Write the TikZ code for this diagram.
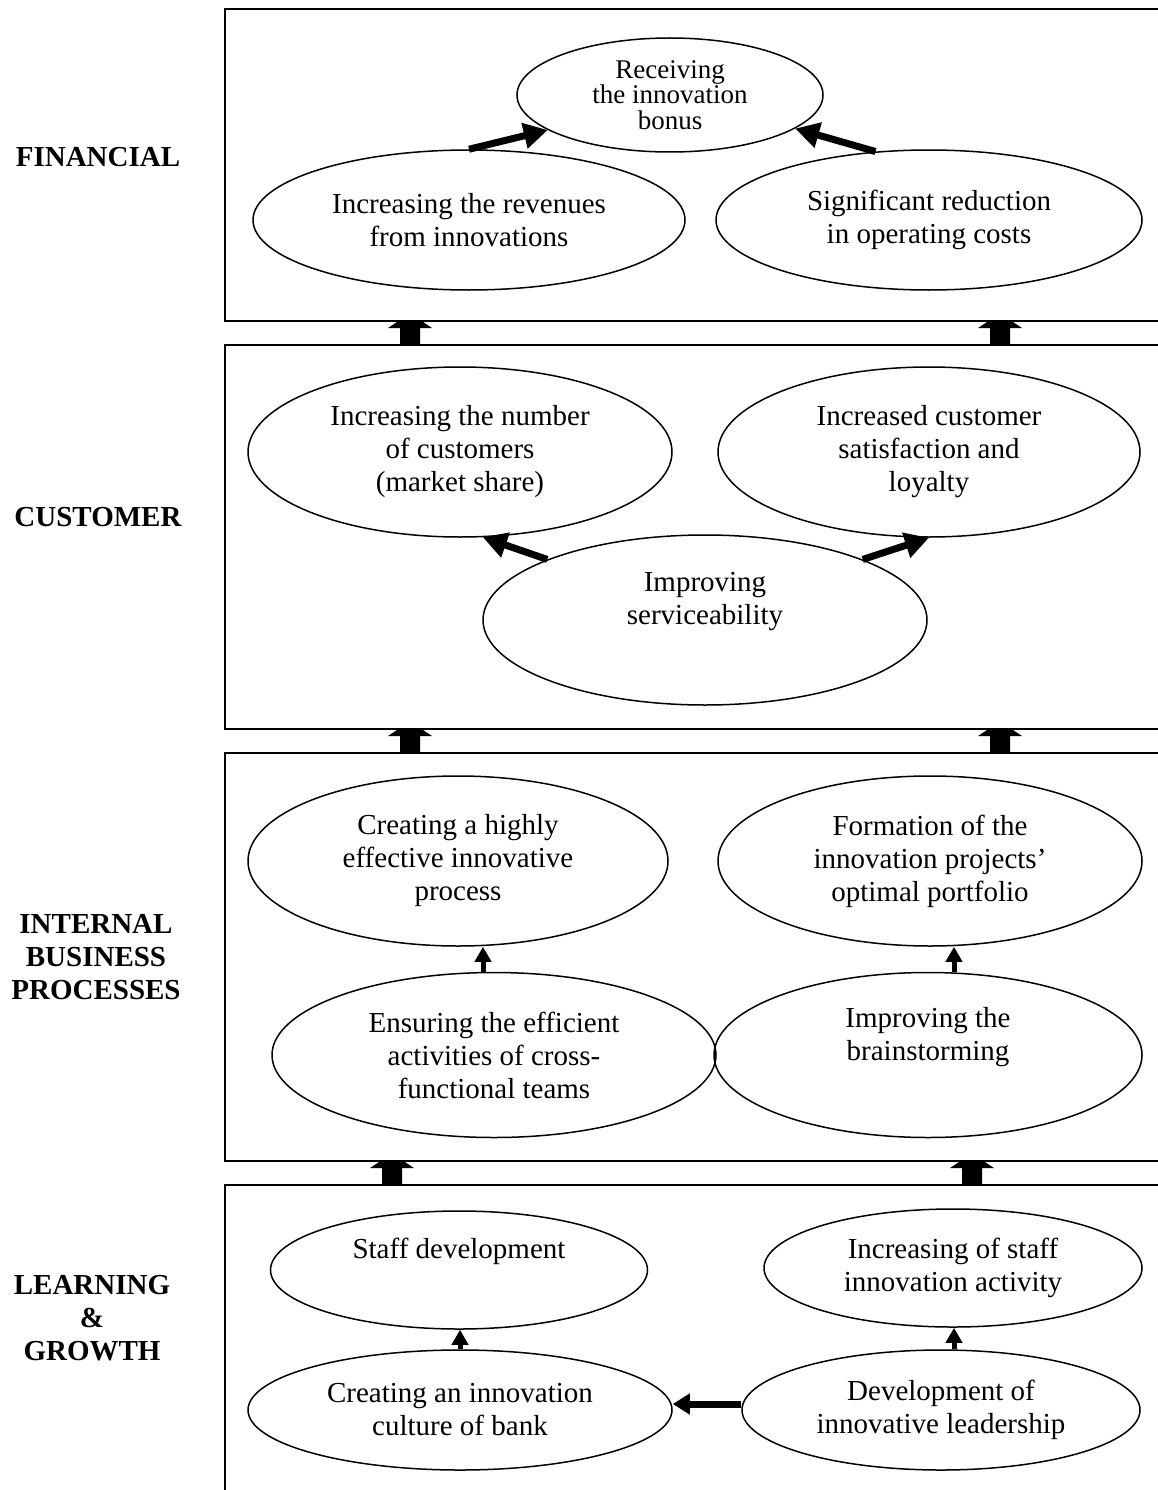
\documentclass[tikz,border=0pt]{standalone}
\usepackage{fontspec}
\setmainfont{Liberation Serif}
\usetikzlibrary{shapes.geometric,arrows.meta,calc}
\newcommand\blkarrow[3]{%
  \fill (#1-10,#2) -- (#1+10,#2) -- (#1+22,#2+8) -- (#1+10,#2+8) -- (#1+10,#3) -- (#1-10,#3) -- (#1-10,#2+8) -- (#1-22,#2+8) -- cycle;}
\newcommand\tightlines{\fontsize{27}{25.5}\selectfont\lineskiplimit=-40pt\relax\lineskip=0pt\relax}
\begin{document}
\begin{tikzpicture}[x=1pt,y=-1pt,
  every node/.style={font=\fontsize{29}{33}\selectfont},
  oval/.style={draw, ellipse, line width=1.5pt, inner sep=0pt, align=center},
  layer/.style={draw, line width=2pt, inner sep=0pt, anchor=north west},
  lbl/.style={font=\fontsize{29}{33}\selectfont\bfseries, align=center},
  bigarrow/.style={line width=7pt, -{Triangle[length=24pt,width=25pt]}},
  midarrow/.style={line width=7pt, -{Triangle[length=17pt,width=20pt]}},
  smallarrow/.style={line width=5pt, -{Triangle[length=15pt,width=16pt]}}]
\useasboundingbox (0,0) rectangle (1158,1490);
\clip (0,0) rectangle (1158,1490);
% layers
\node[layer, minimum width=946, minimum height=312] (L1) at (224,8) {};
\node[layer, minimum width=946, minimum height=384] (L2) at (224,344) {};
\node[layer, minimum width=946, minimum height=408] (L3) at (224,752) {};
\node[layer, minimum width=946, minimum height=330] (L4) at (224,1184) {};
% block arrows between layers
\blkarrow{410}{320}{344}
\blkarrow{1000}{320}{344}
\blkarrow{410}{728}{752}
\blkarrow{1000}{728}{752}
\blkarrow{392}{1160}{1184}
\blkarrow{972}{1160}{1184}
% labels
\node[lbl] (lf) at (98,157) {FINANCIAL};
\node[lbl] (lc) at (98,517) {CUSTOMER};
\node[lbl] (li) at (96,957) {INTERNAL\\BUSINESS\\PROCESSES};
\node[lbl] (ll) at (92,1318) {LEARNING\\\&\\GROWTH};
% financial
\node[oval, minimum width=306, minimum height=114, font=\tightlines] (rec) at (670,95) {Receiving\\the innovation\\bonus};
\node[oval, minimum width=432, minimum height=140] (rev) at (469,220) {Increasing the revenues\\from innovations};
\node[oval, minimum width=426, minimum height=140] (sig) at (929,220) {Significant reduction\\in operating costs};
% customer
\node[oval, minimum width=424, minimum height=170] (cust) at (460,452) {Increasing the number\\of customers\\(market share)};
\node[oval, minimum width=422, minimum height=170] (sat) at (929,452) {Increased customer\\satisfaction and\\loyalty};
\node[oval, minimum width=444, minimum height=170] (serv) at (705,620) {Improving\\serviceability\\\strut};
% internal
\node[oval, minimum width=420, minimum height=170] (cre) at (458,861) {Creating a highly\\effective innovative\\process};
\node[oval, minimum width=424, minimum height=170] (form) at (930,861) {Formation of the\\innovation projects’\\optimal portfolio};
\node[oval, minimum width=444, minimum height=165] (ens) at (494,1055) {Ensuring the efficient\\activities of cross-\\functional teams};
\node[oval, minimum width=428, minimum height=165] (brain) at (928,1055) {Improving the\\brainstorming\\\strut};
% learning
\node[oval, minimum width=377, minimum height=118] (staff) at (459,1270) {Staff development\\\strut};
\node[oval, minimum width=378, minimum height=118] (act) at (953,1268) {Increasing of staff\\innovation activity};
\node[oval, minimum width=424, minimum height=120] (cul) at (460,1410) {Creating an innovation\\culture of bank};
\node[oval, minimum width=398, minimum height=120] (lead) at (941,1410) {Development of\\innovative leadership};
% connectors
\draw[bigarrow] (rev.north) -- (rec.196);
\draw[bigarrow] (sig.128) -- (rec.-15);
\draw[bigarrow] (serv.159) -- (cust.-75);
\draw[bigarrow] (serv.21) -- (sat.south);
\draw[smallarrow] ([xshift=-11pt]ens.north) -- ([xshift=25pt]cre.south);
\draw[smallarrow] ([xshift=26pt]brain.north) -- ([xshift=24pt]form.south);
\draw[smallarrow] (cul.north) -- (cul.north |- staff.south);
\draw[smallarrow] ([xshift=13pt]lead.north) -- ([xshift=13pt]lead.north |- act.south);
\draw[midarrow] ([yshift=6pt]lead.west) -- ([yshift=6pt]cul.east);
\end{tikzpicture}
\end{document}
